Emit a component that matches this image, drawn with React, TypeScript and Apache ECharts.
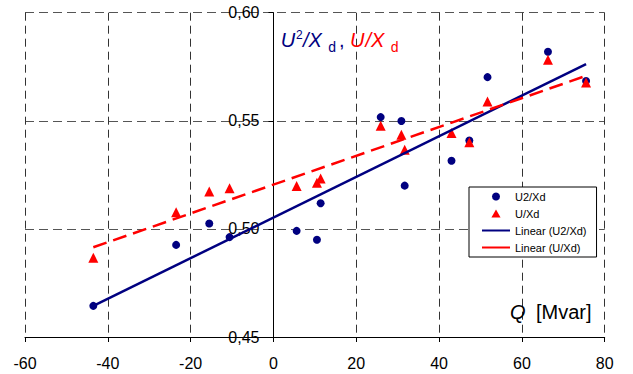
import React, { useEffect, useRef } from "react";
import * as echarts from "echarts";

const qValues = [-43.5, -23.5, -15.5, -10.6, 5.6, 10.5, 11.4, 25.9, 30.9, 31.7, 43.0, 47.3, 51.7, 66.3, 75.5];
const u2xd = [0.4644, 0.4926, 0.5025, 0.4962, 0.4991, 0.4950, 0.5119, 0.5517, 0.5499, 0.5200, 0.5315, 0.5409, 0.5702, 0.5819, 0.5684];
const uxd = [0.4867, 0.5077, 0.5173, 0.5188, 0.5199, 0.5214, 0.5233, 0.5477, 0.5435, 0.5366, 0.5443, 0.5401, 0.5589, 0.5782, 0.5677];
const trendQ = [-43.5, 75.5];
const trendU2 = [0.4644, 0.5762];
const trendU = [0.4915, 0.5708];
const seriesNames = ["U2/Xd", "U/Xd", "Linear (U2/Xd)", "Linear (U/Xd)"];

const FONT = "Arial, 'Liberation Sans', sans-serif";
const BLUE = "#000080";
const RED = "#ff0000";

const GRID_LEFT = 25;
const GRID_RIGHT = 28.3;
const WIDTH = 633;
const X_MIN = -60;
const X_MAX = 80;

export default function App() {
  const ref = useRef<HTMLDivElement>(null);
  useEffect(() => {
    if (!ref.current) return;
    const chart = echarts.init(ref.current, null, { renderer: "svg" });
    const zip = (xs: number[], ys: number[]) => xs.map((x, i) => [x, ys[i]]);
    const t = (text: string, x: number, y: number, size: number, color: string, italic = false) => ({
      type: "text",
      x,
      y,
      style: {
        text,
        fill: color,
        font: `${italic ? "italic " : ""}${size}px ${FONT}`,
        align: "left",
        verticalAlign: "middle",
      },
      z: 100,
    });
    const plotW = WIDTH - GRID_LEFT - GRID_RIGHT;
    const zeroOffset = ((0 - X_MIN) / (X_MAX - X_MIN)) * plotW;
    chart.setOption({
      animation: false,
      backgroundColor: "#fff",
      grid: { left: GRID_LEFT, right: GRID_RIGHT, top: 12.7, bottom: 37, containLabel: false },
      xAxis: {
        type: "value",
        min: X_MIN,
        max: X_MAX,
        interval: 20,
        axisLine: { onZero: false, lineStyle: { color: "#000", width: 1 } },
        axisTick: { show: true, inside: false, length: 5, lineStyle: { color: "#000" } },
        axisLabel: { fontSize: 16, color: "#000", fontFamily: FONT, margin: 18 },
        splitLine: { show: true, lineStyle: { color: "#333", type: [8, 5], width: 1 } },
      },
      yAxis: {
        type: "value",
        min: 0.45,
        max: 0.6,
        interval: 0.05,
        position: "left",
        offset: -zeroOffset,
        axisLine: { show: true, onZero: false, lineStyle: { color: "#000", width: 1 } },
        axisTick: { show: true, inside: false, length: 5, lineStyle: { color: "#000" } },
        axisLabel: {
          fontSize: 16,
          color: "#000",
          fontFamily: FONT,
          margin: 14,
          formatter: (v: number) => v.toFixed(2).replace(".", ","),
        },
        splitLine: { show: true, lineStyle: { color: "#555", type: [9, 5], width: 1 } },
      },
      legend: {
        orient: "vertical",
        left: 469,
        top: 187,
        backgroundColor: "#fff",
        borderColor: "#000",
        borderWidth: 1,
        borderRadius: 0,
        padding: [4, 10, 4, 12],
        itemWidth: 28,
        itemHeight: 8,
        itemGap: 6,
        symbolKeepAspect: true,
        textStyle: { fontSize: 11, color: "#000", fontFamily: FONT, lineHeight: 11 },
        data: [
          { name: seriesNames[0], icon: "circle" },
          { name: seriesNames[1], icon: "path://M4,0L8,7L0,7Z" },
          { name: seriesNames[2], itemStyle: { opacity: 0 } },
          { name: seriesNames[3], itemStyle: { opacity: 0 }, lineStyle: { type: "solid" } },
        ],
      },
      series: [
        {
          name: seriesNames[0],
          type: "scatter",
          symbol: "circle",
          symbolSize: 8,
          itemStyle: { color: BLUE, opacity: 1 },
          data: zip(qValues, u2xd),
          z: 3,
        },
        {
          name: seriesNames[1],
          type: "scatter",
          symbol: "triangle",
          symbolSize: 10,
          itemStyle: { color: RED, opacity: 1 },
          data: zip(qValues, uxd),
          z: 3,
        },
        {
          name: seriesNames[2],
          type: "line",
          symbol: "none",
          showSymbol: false,
          itemStyle: { color: BLUE },
          lineStyle: { color: BLUE, width: 2.5 },
          data: zip(trendQ, trendU2),
          z: 4,
        },
        {
          name: seriesNames[3],
          type: "line",
          symbol: "none",
          showSymbol: false,
          itemStyle: { color: RED },
          lineStyle: { color: RED, width: 2.5, type: [14, 7] },
          data: zip(trendQ, trendU),
          z: 4,
        },
      ],
      graphic: [
        t("U", 280.7, 40, 20, BLUE, true),
        t("2", 296, 35.3, 12, BLUE),
        t("/X", 303, 40, 20, BLUE, true),
        t("d", 328.3, 47.1, 14, BLUE),
        t(",", 339, 40, 20, BLUE),
        t("U", 350, 40, 20, RED, true),
        t("/X", 365.5, 40, 20, RED, true),
        t("d", 390.7, 47.1, 14, RED),
        t("Q", 510, 312, 20, "#000", true),
        t("[Mvar]", 536, 312, 20, "#000"),
      ],
    });
    return () => chart.dispose();
  }, []);
  return (
    <div
      ref={ref}
      style={{ position: "absolute", left: 0, top: 0, width: 633, height: 374 }}
    />
  );
}
